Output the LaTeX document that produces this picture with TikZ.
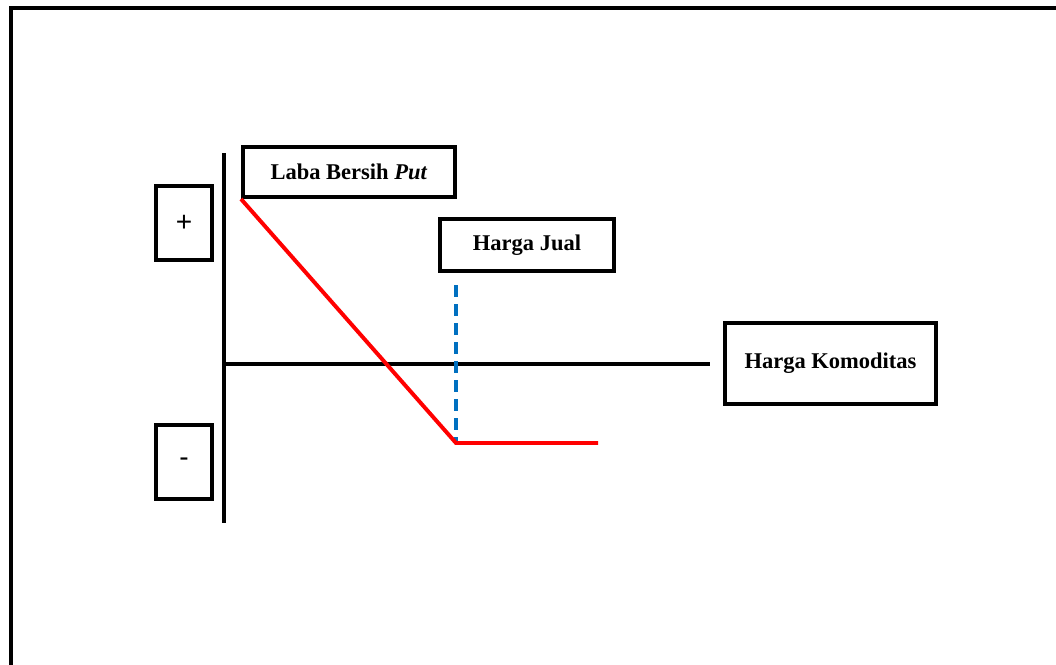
\documentclass[tikz,border=0pt]{standalone}
\usepackage{fontspec}
\setmainfont{Liberation Serif}
\newfontfamily\arialfont{Liberation Sans}
\usetikzlibrary{positioning}

\begin{document}
\begin{tikzpicture}[
    x=0.025cm, y=-0.025cm,
    box/.style={rectangle, draw, line width=2.8pt, inner sep=0pt, font=\fontsize{16}{18}\selectfont\bfseries},
    signbox/.style={box, minimum width=1.4cm, minimum height=1.85cm, font=\arialfont\fontsize{20}{22}\selectfont},
    axis/.style={line width=2.8pt},
    payoff/.style={line width=2.8pt, red},
    strike/.style={line width=2.8pt, color={rgb,255:red,0;green,112;blue,192}, dash pattern=on 0.3cm off 0.175cm}
]
    \useasboundingbox (0,0) rectangle (1056,664);
    \clip (0,0) rectangle (1056,664);

    % Outer frame
    \draw[line width=2.2pt] (11,680) |- (1070,8);

    % Sign boxes
    \node[signbox] (plus) at (184,223) {+};
    \node[signbox] (minus) at (184,462) {-};

    % Labels
    \node[box, minimum width=5.3cm, minimum height=1.25cm] (laba) at (349,172) {Laba Bersih \textit{Put}};
    \node[box, minimum width=4.35cm, minimum height=1.3cm] (jual) at (527,245) {Harga Jual};
    \node[box, minimum width=5.28cm, minimum height=2.02cm] (komoditas) at (830.5,363.5) {Harga Komoditas};

    % Axes
    \coordinate (ytop) at (224,153);
    \coordinate (ybot) at (224,523);
    \coordinate (origin) at (224,364);
    \coordinate (xend) at (710,364);
    \draw[axis] (ytop) -- (ybot);
    \draw[axis] (origin) -- (xend);

    % Payoff
    \coordinate (kink) at (456,443);
    \coordinate (flat) at (598,443);
    \coordinate (dashtop) at (456,285);
    \draw[strike] (dashtop) -- (kink);
    \draw[payoff] (laba.south west) -- (kink) -- (flat);
\end{tikzpicture}
\end{document}
